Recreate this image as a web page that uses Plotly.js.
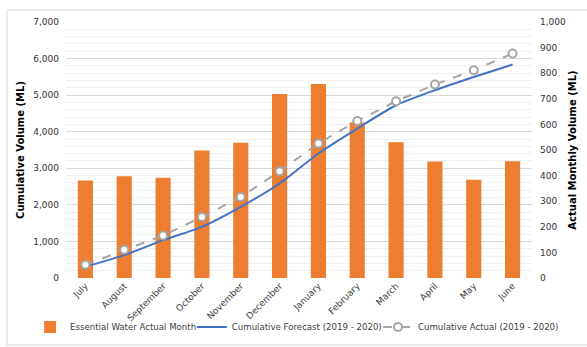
<!DOCTYPE html>
<html>
<head>
<meta charset="utf-8">
<script src="https://cdn.plot.ly/plotly-3.0.1.min.js"></script>
<style>
  html, body { margin: 0; padding: 0; background: #fff; }
  #chart { width: 587px; height: 347px; }
</style>
</head>
<body>
<div id="chart"></div>
<script>
const months = ["July", "August", "September", "October", "November", "December",
                "January", "February", "March", "April", "May", "June"];
const monthlyActual = [381, 397, 392, 498, 528, 719, 758, 607, 530, 455, 384, 456];
const cumForecast = [310, 625, 1035, 1400, 1945, 2585, 3404, 4087, 4724, 5134, 5497, 5836];
const cumActual = [360, 773, 1164, 1667, 2213, 2921, 3678, 4295, 4833, 5290, 5680, 6137];

const seriesNames = ["Essential Water Actual Month", "Cumulative Forecast (2019 - 2020)", "Cumulative Actual (2019 - 2020)"];

const font = "DejaVu Sans, Verdana, sans-serif";

const traces = [
  {
    type: "bar", name: seriesNames[0], x: months, y: monthlyActual, yaxis: "y",
    marker: { color: "#ed7d31" }, legend: "legend"
  },
  {
    type: "scatter", mode: "lines", name: seriesNames[1], x: months, y: cumForecast, yaxis: "y2",
    line: { color: "#4472c4", width: 2, shape: "spline", smoothing: 0.6 }, legend: "legend2"
  },
  {
    type: "scatter", mode: "lines+markers", name: seriesNames[2], x: months, y: cumActual, yaxis: "y2",
    line: { color: "#a5a5a5", width: 2, dash: "dash" },
    marker: { symbol: "circle", size: 8, color: "#ffffff", line: { color: "#a5a5a5", width: 2 } },
    legend: "legend3"
  }
];

const legendBase = {
  orientation: "h", xanchor: "left", y: -0.191, yanchor: "middle",
  font: { size: 8.6, color: "#404040" }, itemwidth: 30,
  bgcolor: "rgba(0,0,0,0)", borderwidth: 0
};

const layout = {
  width: 587, height: 347,
  margin: { l: 66, r: 55, t: 22, b: 69, pad: 0, autoexpand: false },
  paper_bgcolor: "#ffffff", plot_bgcolor: "#ffffff",
  font: { family: font, size: 9, color: "#333333" },
  showlegend: true,
  bargap: 0.61,
  xaxis: {
    type: "category", range: [-0.5, 11.5], tickangle: -45, showgrid: false, zeroline: false,
    showline: false, ticks: "", tickfont: { size: 9, color: "#404040" },
    automargin: false
  },
  yaxis: {
    side: "right", range: [0, 1000], dtick: 100, tickformat: ",d",
    showgrid: false, zeroline: false, showline: false, ticks: "",
    ticklabelstandoff: 7,
    tickfont: { size: 9, color: "#333333" },
    title: { text: "<b>Actual Monthly Volume (ML)</b>", font: { size: 10, color: "#000000" }, standoff: 3 },
    automargin: false
  },
  yaxis2: {
    overlaying: "y", side: "left", range: [0, 7000], dtick: 1000, tickformat: ",d",
    showgrid: true, gridcolor: "#d9d9d9", gridwidth: 1,
    minor: { dtick: 200, showgrid: true, gridcolor: "#efefef", gridwidth: 1 },
    zeroline: false, showline: false, ticks: "",
    ticklabelstandoff: 6,
    tickfont: { size: 9, color: "#333333" },
    title: { text: "<b>Cumulative Volume (ML)</b>", font: { size: 10, color: "#000000" }, standoff: 6 },
    automargin: false
  },
  legend: Object.assign({}, legendBase, { x: -0.077 }),
  legend2: Object.assign({}, legendBase, { x: 0.270 }),
  legend3: Object.assign({}, legendBase, { x: 0.6695 }),
  shapes: [
    {
      type: "rect", xref: "paper", yref: "paper",
      x0: -0.1266, x1: 1.14, y0: -0.262, y1: 1.047,
      line: { color: "#d9d9d9", width: 1 }, fillcolor: "rgba(0,0,0,0)", layer: "below"
    }
  ]
};

Plotly.newPlot("chart", traces, layout, { displayModeBar: false, staticPlot: true });
</script>
</body>
</html>
